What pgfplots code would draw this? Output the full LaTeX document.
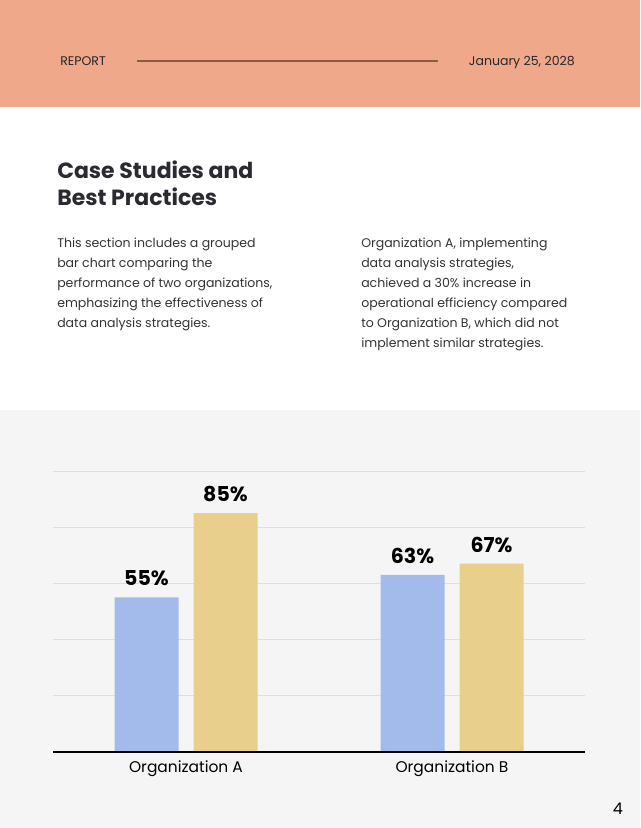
\documentclass[border=0pt]{standalone}
\usepackage{pgfplots}
\pgfplotsset{compat=1.18}
\usepackage{fontspec}
\setmainfont{Poppins}
\definecolor{hdr}{HTML}{EFA88A}
\definecolor{hdrline}{HTML}{8E5A48}
\definecolor{bggray}{HTML}{F5F5F5}
\definecolor{titlec}{HTML}{2A2A32}
\definecolor{bodyc}{HTML}{333333}
\definecolor{barblue}{HTML}{A3BBEA}
\definecolor{baryellow}{HTML}{E9CF8C}
\definecolor{gridc}{HTML}{DEDEDE}
\begin{document}
\begin{tikzpicture}
\begin{scope}[x=0.75pt,y=-0.75pt]
\fill[white] (0,0) rectangle (640,828);
\fill[hdr] (0,0) rectangle (640,107);
\fill[bggray] (0,410) rectangle (640,828);
\draw[hdrline,line width=0.8pt] (137,61) -- (438,61);
\node[anchor=base west,inner sep=0,text=titlec!90!black,font=\fontsize{9.4}{12}\selectfont] at (60,65.5) {REPORT};
\node[anchor=base east,inner sep=0,text=titlec!90!black,font=\fontsize{9.4}{12}\selectfont] at (575,65.5) {January 25, 2028};
\begin{scope}[every node/.style={anchor=base west,inner sep=0,text=titlec,font=\bfseries\fontsize{16.5}{20}\selectfont}]
\node at (57,178.5) {Case Studies and};
\node at (57,205) {Best Practices};
\end{scope}
\begin{scope}[every node/.style={anchor=base west,inner sep=0,text=bodyc,font=\fontsize{9.4}{12}\selectfont}]
\node at (57,247) {This section includes a grouped};
\node at (57,267) {bar chart comparing the};
\node at (57,287) {performance of two organizations,};
\node at (57,307) {emphasizing the effectiveness of};
\node at (57,327) {data analysis strategies.};
\node at (361,247) {Organization A, implementing};
\node at (361,267) {data analysis strategies,};
\node at (361,287) {achieved a 30\% increase in};
\node at (361,307) {operational efficiency compared};
\node at (361,327) {to Organization B, which did not};
\node at (361,347) {implement similar strategies.};
\end{scope}
\node[anchor=base,inner sep=0,font=\fontsize{12}{14}\selectfont] at (618,814) {4};
\end{scope}
\begin{axis}[
  at={(39.75pt,-564pt)}, anchor=south west,
  scale only axis, width=399pt, height=210.75pt,
  xmin=-0.5, xmax=1.5, ymin=0, ymax=100,
  axis line style={draw=none},
  ytick={0,20,40,60,80,100}, yticklabels={},
  ymajorgrids, grid style={gridc,line width=0.6pt},
  major tick length=0pt,
  xtick={0,1}, xticklabels={Organization A,Organization B},
  xticklabel style={font=\fontsize{11.6}{14}\selectfont,text=black,yshift=-2.75pt},
  /pgf/number format/assume math mode=true,
  ybar, bar width=0.2406,
  nodes near coords={\pgfmathprintnumber{\pgfplotspointmeta}\%},
  every node near coord/.append style={font=\bfseries\fontsize{15.4}{17}\selectfont,text=black,inner sep=0pt,anchor=base,yshift=8.8pt},
  clip=false,
]
\addplot[fill=barblue,draw=none,bar shift=-0.1485] coordinates {(0,55) (1,63)};
\addplot[fill=baryellow,draw=none,bar shift=0.1485] coordinates {(0,85) (1,67)};
\draw[black,line width=0.8pt] (axis cs:-0.5,0) -- (axis cs:1.5,0);
\end{axis}
\end{tikzpicture}
\end{document}
